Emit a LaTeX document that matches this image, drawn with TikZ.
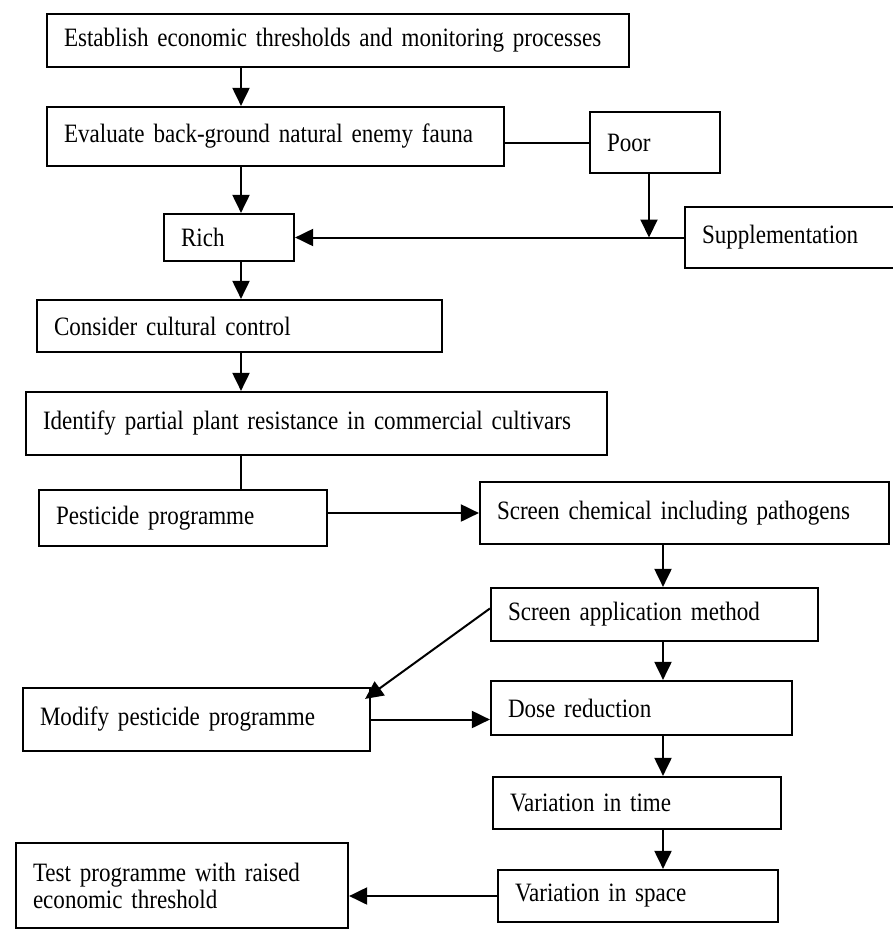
\documentclass[tikz,border=0pt]{standalone}
\usepackage{fontspec}
\setmainfont[FakeStretch=0.87,WordSpace=0.7]{Liberation Serif}
\usetikzlibrary{arrows.meta}

\begin{document}
\begin{tikzpicture}[x=1pt,y=-1pt,font=\fontsize{26.5}{27}\selectfont,
   stage/.style={draw,line width=2.2pt,align=left,inner xsep=17pt,inner ysep=0pt},
   arr/.style={line width=2pt,-{Triangle[length=18pt,width=17pt]}},
   link/.style={line width=2pt}]
   \useasboundingbox (0,0) rectangle (892,929);
   \coordinate (lcol) at (241,0);
   \coordinate (rcol) at (663,0);
   \draw (338,40.5) node[stage,text width=548pt,minimum height=53pt] (estab) {Establish economic thresholds and monitoring processes};
   \draw (275.5,136.5) node[stage,text width=423pt,minimum height=59pt] (evalu) {Evaluate back-ground natural enemy fauna};
   \draw (655,142.5) node[stage,text width=96pt,minimum height=61pt] (poor) {Poor};
   \draw (229,237.5) node[stage,text width=96pt,minimum height=47pt] (rich) {Rich};
   \draw (795,237.5) node[stage,text width=186pt,minimum height=61pt] (suppl) {Supplementation};
   \draw (239.5,326) node[stage,text width=371pt,minimum height=52pt] (consid) {Consider cultural control};
   \draw (316.5,423.5) node[stage,text width=547pt,minimum height=63pt] (ident) {Identify partial plant resistance in commercial cultivars};
   \draw (183,518) node[stage,text width=254pt,minimum height=56pt] (pestic) {Pesticide programme};
   \draw (684.5,513) node[stage,text width=375pt,minimum height=62pt] (scrchem) {Screen chemical including pathogens};
   \draw (654.5,614.5) node[stage,text width=293pt,minimum height=53pt] (scrapp) {Screen application method};
   \draw (196.5,719.5) node[stage,text width=313pt,minimum height=63pt] (modify) {Modify pesticide programme};
   \draw (641.5,708) node[stage,text width=267pt,minimum height=54pt] (dose) {Dose reduction};
   \draw (637,803) node[stage,text width=254pt,minimum height=52pt] (vtime) {Variation in time};
   \draw (638,896) node[stage,text width=246pt,minimum height=52pt] (vspace) {Variation in space};
   \draw (182,885.5) node[stage,text width=298pt,minimum height=85pt] (test) {Test programme with raised\\economic threshold};
   \draw[arr] (estab.south -| lcol) -- (evalu.north -| lcol);
   \draw[arr] (evalu.south -| lcol) -- (rich.north -| lcol);
   \draw[link] (evalu.east |- poor) -- (poor.west);
   \draw[arr] ([xshift=-6pt]poor.south) -- ([xshift=-6pt]poor.south |- rich.east);
   \draw[arr] (suppl.west) -- (rich.east);
   \draw[arr] (rich.south -| lcol) -- (consid.north -| lcol);
   \draw[arr] (consid.south -| lcol) -- (ident.north -| lcol);
   \draw[link] (ident.south -| lcol) -- (pestic.north -| lcol);
   \draw[arr] (pestic.east |- scrchem) -- (scrchem.west);
   \draw[arr] (scrchem.south -| rcol) -- (scrapp.north -| rcol);
   \draw[arr] ([yshift=6pt]scrapp.west) -- ([shift={(-6,12)}]modify.north east);
   \draw[arr] (scrapp.south -| rcol) -- (dose.north -| rcol);
   \draw[arr] (modify.east) -- (modify.east -| dose.west);
   \draw[arr] (dose.south -| rcol) -- (vtime.north -| rcol);
   \draw[arr] (vtime.south -| rcol) -- (vspace.north -| rcol);
   \draw[arr] (vspace.west) -- (vspace.west -| test.east);
\end{tikzpicture}
\end{document}
